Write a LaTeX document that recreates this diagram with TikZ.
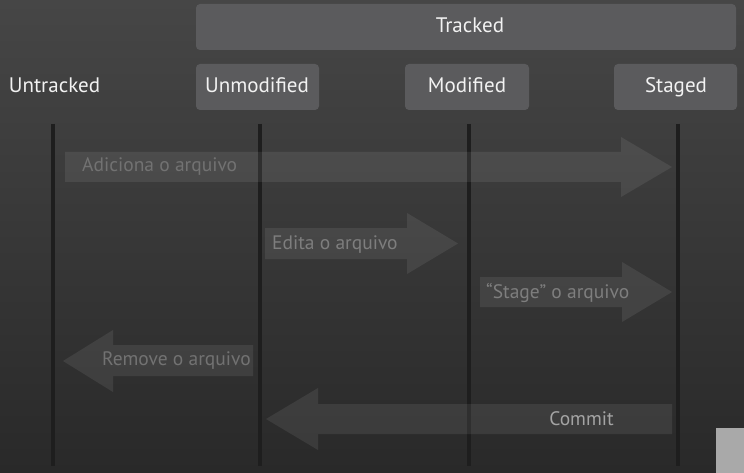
\documentclass[tikz,border=0pt]{standalone}
\usepackage{fontspec}
\setmainfont{PT Sans}
\definecolor{boxgray}{HTML}{5B5B5D}
\definecolor{boxtext}{HTML}{F2F2F2}
\definecolor{lanecol}{HTML}{1E1E1E}
\definecolor{bgtop}{HTML}{464646}
\definecolor{bgbot}{HTML}{292929}
\definecolor{lblA}{HTML}{727272}
\definecolor{lblB}{HTML}{7E7E7E}
\definecolor{lblC}{HTML}{A4A4A4}
\definecolor{cornergray}{HTML}{A9A9A9}
\begin{document}
\begin{tikzpicture}[x=1pt,y=-1pt,
  box/.style={draw=none,fill=boxgray,rounded corners=4pt,inner sep=0pt},
  state/.style={text=boxtext,font=\fontsize{21}{24}\selectfont,inner sep=0pt,anchor=base},
  lane/.style={draw=lanecol,line width=4pt},
  flow/.style={fill=white,fill opacity=0.08,draw=none},
  lbl/.style={font=\fontsize{19.5}{22}\selectfont,inner sep=0pt}]
\useasboundingbox (0,0) rectangle (744,473);
\shade[top color=bgtop,bottom color=bgbot] (0,0) rectangle (744,473);
% header boxes
\node[box,minimum width=540pt,minimum height=46pt] (tracked) at (466,27) {};
\node[state] (trackedtxt) at (470,33) {Tracked};
\node[box,minimum width=123pt,minimum height=46pt] (unmod) at (257.5,87) {};
\node[state] (unmodtxt) at (257,93) {Unmodified};
\node[box,minimum width=124pt,minimum height=46pt] (mod) at (467,87) {};
\node[state] (modtxt) at (467,93) {Modified};
\node[box,minimum width=123pt,minimum height=46pt] (staged) at (675.5,87) {};
\node[state] (stagedtxt) at (676,93) {Staged};
\node[state] (untr) at (54.5,93) {Untracked};
% lanes
\foreach \n/\x in {a/53,b/260,c/469,d/678}{
  \coordinate (\n t) at (\x,124);
  \coordinate (\n b) at (\x,466);
  \draw[lane] (\n t) -- (\n b);
}
% arrows
\fill[flow] (65,152)--(621,152)--(621,137)--(672,167)--(621,197)--(621,182)--(65,182)--cycle;
\fill[flow] (265,228)--(407,228)--(407,213)--(458,243.5)--(407,274)--(407,259)--(265,259)--cycle;
\fill[flow] (480,277)--(622,277)--(622,262)--(672,292)--(622,322)--(622,307)--(480,307)--cycle;
\fill[flow] (253,345)--(113,345)--(113,330)--(63,361)--(113,392)--(113,376)--(253,376)--cycle;
\fill[flow] (672,404)--(318,404)--(318,388)--(266,419)--(318,450)--(318,434)--(672,434)--cycle;
% labels
\node[lbl,text=lblA,anchor=base west] (l1) at (82,172) {Adiciona o arquivo};
\node[lbl,text=lblB,anchor=base west] (l2) at (272,249) {Edita o arquivo};
\node[lbl,text=lblB,anchor=base west] (l3) at (486,298) {“Stage” o arquivo};
\node[lbl,text=lblA,anchor=base east] (l4) at (251,365) {Remove o arquivo};
\node[lbl,text=lblC,anchor=base] (l5) at (581.5,425) {Commit};
% corner artifact
\fill[fill=cornergray] (716,428) rectangle (744,473);
\end{tikzpicture}
\end{document}
